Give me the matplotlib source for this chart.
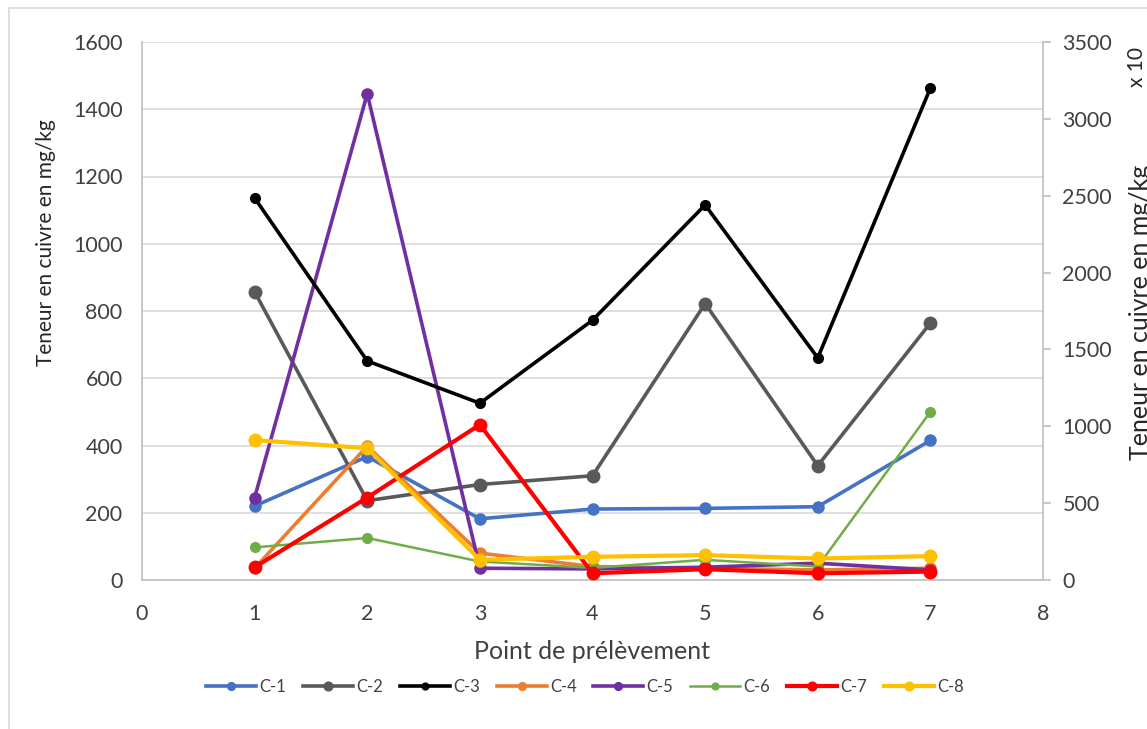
import matplotlib
matplotlib.use('Agg')
import matplotlib.pyplot as plt
from matplotlib.patches import Rectangle

plt.rcParams['font.family'] = ['Lato', 'DejaVu Sans']

# points de prélèvement
points = [1, 2, 3, 4, 5, 6, 7]

# axe principal (mg/kg)
c1 = [220, 367, 182, 211, 213, 218, 415]
c2 = [857, 236, 284, 310, 822, 340, 764]
c4 = [35, 398, 80, 40, 35, 30, 35]
c5 = [245, 1446, 35, 33, 38, 50, 30]
c6 = [97, 125, 55, 36, 60, 40, 500]
c7 = [38, 245, 462, 20, 32, 20, 25]
c8 = [416, 392, 60, 69, 74, 64, 71]

# axe secondaire (x 10)
c3 = [2485, 1425, 1150, 1690, 2440, 1445, 3200]

x_ticks = [0, 1, 2, 3, 4, 5, 6, 7, 8]
left_ticks = [0, 200, 400, 600, 800, 1000, 1200, 1400, 1600]
right_ticks = [0, 500, 1000, 1500, 2000, 2500, 3000, 3500]

colors = {
    'C-1': '#4472C4', 'C-2': '#595959', 'C-3': '#000000', 'C-4': '#ED7D31',
    'C-5': '#7030A0', 'C-6': '#70AD47', 'C-7': '#FF0000', 'C-8': '#FFC000',
}
text_color = '#404040'
grid_color = '#d9d9d9'

fig = plt.figure(figsize=(11.47, 7.29), dpi=100)
ax = fig.add_axes([142 / 1147, 1 - 580 / 729, (1043 - 142) / 1147, (580 - 42) / 729])
ax2 = ax.twinx()

# ordre de tracé
series = [('C-1', c1, 2.6, 8), ('C-2', c2, 2.6, 9), ('C-4', c4, 2.6, 8),
          ('C-5', c5, 2.6, 8), ('C-6', c6, 1.8, 7), ('C-7', c7, 3.0, 9),
          ('C-8', c8, 3.0, 9)]
handles = {}
for name, vals, lw, ms in series:
    h, = ax.plot(points, vals, color=colors[name], linewidth=lw, marker='o',
                 markersize=ms, label=name, zorder=3)
    handles[name] = h

h3, = ax2.plot(points, c3, color=colors['C-3'], linewidth=2.6, marker='o',
               markersize=7, label='C-3')
handles['C-3'] = h3

ax.set_xlim(0, 8)
ax.set_ylim(0, 1600)
ax2.set_ylim(0, 3500)
ax.set_xticks(x_ticks)
ax.set_yticks(left_ticks)
ax2.set_yticks(right_ticks)

ax.grid(True, axis='y', color=grid_color, linewidth=1.2)
ax.set_axisbelow(True)

for a in (ax, ax2):
    for s in a.spines.values():
        s.set_color('#bfbfbf')
        s.set_linewidth(1.2)
    a.spines['top'].set_visible(False)
ax.spines['right'].set_visible(False)
ax2.spines['left'].set_visible(False)
ax2.spines['bottom'].set_visible(False)

ax.tick_params(axis='x', length=0, pad=17, labelsize=15.5, labelcolor=text_color)
ax.tick_params(axis='y', length=0, pad=14, labelsize=15.5, labelcolor=text_color)
ax2.tick_params(axis='y', length=6, width=1.2, color='#bfbfbf', pad=8,
                labelsize=15.5, labelcolor=text_color)

ax.set_xlabel('Point de prélèvement', fontsize=18, color=text_color, labelpad=12)
fig.text(46 / 1147, 1 - 243 / 729, 'Teneur en cuivre en mg/kg', rotation=90,
         ha='center', va='center', fontsize=15, color='#262626')
fig.text(1141 / 1147, 1 - 312 / 729, 'Teneur en cuivre en mg/kg', rotation=90,
         ha='center', va='center', fontsize=18, color='#262626')
fig.text(1137 / 1147, 1 - 67 / 729, 'x 10', rotation=90,
         ha='center', va='center', fontsize=15, color='#262626')

order = ['C-1', 'C-2', 'C-3', 'C-4', 'C-5', 'C-6', 'C-7', 'C-8']
leg = fig.legend([handles[k] for k in order], order, loc='center',
                 bbox_to_anchor=(585 / 1147, 1 - 687 / 729), ncol=8,
                 frameon=False, fontsize=12, handlelength=3.0,
                 columnspacing=1.0, handletextpad=0.2, markerscale=0.7)
for t in leg.get_texts():
    t.set_color(text_color)

fig.patches.append(Rectangle((9 / 1147, -0.01), 1.2, 1 - 8 / 729 + 0.01,
                             transform=fig.transFigure, fill=False,
                             edgecolor=grid_color, linewidth=1.2))

fig.savefig('out.png', dpi=100)
